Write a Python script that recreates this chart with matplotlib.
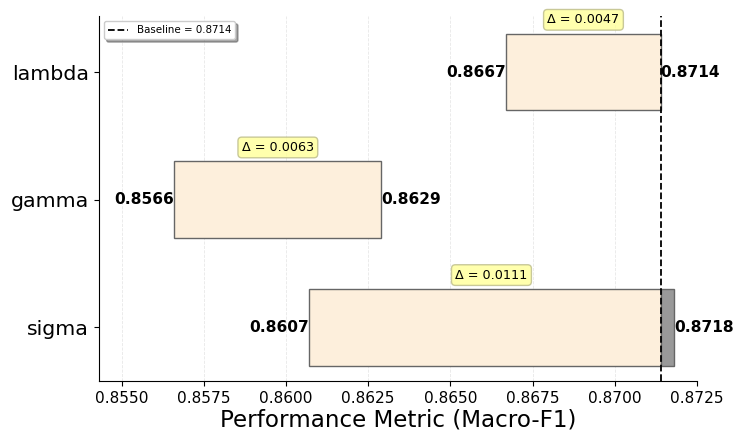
import matplotlib
matplotlib.use("Agg")
import matplotlib.pyplot as plt

categories = ["sigma", "gamma", "lambda"]
low_values = [0.8607, 0.8566, 0.8667]
high_values = [0.8718, 0.8629, 0.8714]
baseline = 0.8714
xticks = [0.8550, 0.8575, 0.8600, 0.8625, 0.8650, 0.8675, 0.8700, 0.8725]

s = 0.92
fig = plt.figure(figsize=(7.37, 4.32), dpi=100)
ax = fig.add_axes([0.1340, 0.118, 0.8124, 0.845])

for i, (cat, lo, hi) in enumerate(zip(categories, low_values, high_values)):
    top_main = min(hi, baseline)
    ax.barh(i, top_main - lo, left=lo, height=0.6, color="#FDEFDC",
            edgecolor="#666666", linewidth=1.0, zorder=2)
    if hi > baseline:
        ax.barh(i, hi - baseline, left=baseline, height=0.6, color="#999999",
                edgecolor="#666666", linewidth=1.0, zorder=2)
    ax.text(lo, i, f"{lo:.4f}", ha="right", va="center", fontsize=12 * s,
            fontweight="bold", zorder=4)
    ax.text(hi, i, f"{hi:.4f}", ha="left", va="center", fontsize=12 * s,
            fontweight="bold", zorder=4)
    ax.text((lo + hi) / 2, i + 0.41, f"Δ = {hi - lo:.4f}", ha="center",
            va="center", fontsize=10 * s, zorder=5,
            bbox=dict(boxstyle="round,pad=0.3", facecolor="#FFFF99",
                      edgecolor="#BBBB88", alpha=0.8))

ax.axvline(baseline, color="black", linestyle="--", linewidth=1.3,
           label=f"Baseline = {baseline}", zorder=3)

ax.set_yticks(range(len(categories)))
ax.set_yticklabels(categories, fontsize=16 * s)
ax.set_xticks(xticks)
ax.set_xticklabels([f"{t:.4f}" for t in xticks], fontsize=12 * s)
ax.set_xlim(0.85430, 0.87252)
ax.set_ylim(-0.42, 2.44)
ax.set_xlabel("Performance Metric (Macro-F1)", fontsize=18 * s, labelpad=2)
ax.grid(axis="x", color="#dddddd", linestyle="--", linewidth=0.6, alpha=0.7, zorder=0)
ax.set_axisbelow(True)
ax.spines["top"].set_visible(False)
ax.spines["right"].set_visible(False)
ax.legend(loc="upper left", fontsize=8 * s, shadow=True, fancybox=True)

fig.savefig("out.png", dpi=100)
